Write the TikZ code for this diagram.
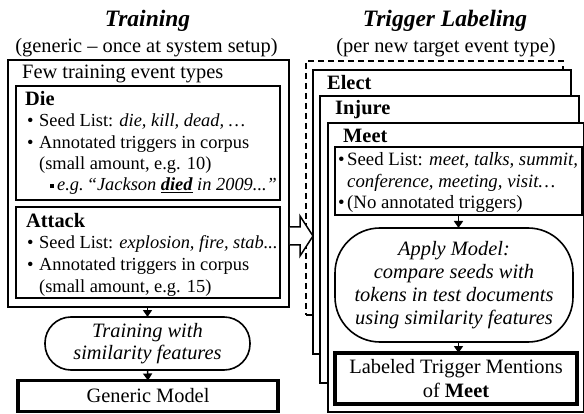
\documentclass[tikz,border=0pt]{standalone}
\usepackage{fontspec}
\setmainfont{Liberation Serif}
\usetikzlibrary{arrows.meta}
\newcommand\bul[1]{\makebox[#1][l]{\textbullet}}
\begin{document}
\begin{tikzpicture}[x=1pt,y=-1pt,
  box/.style={draw, line width=1.8pt, inner sep=0pt, outer sep=0pt, anchor=north west, fill=white},
  thinbox/.style={box, line width=1.5pt},
  pill/.style={draw, line width=1.6pt, inner sep=0pt, outer sep=0pt, fill=white, align=center},
  strong/.style={draw, line width=3.5pt, inner sep=0pt, outer sep=0pt, fill=white, align=center, font=\fontsize{20.4}{24}\selectfont},
  txt/.style={anchor=base west, inner sep=0pt, font=\fontsize{20.4}{22}\selectfont},
  btxt/.style={anchor=base west, inner sep=0pt, font=\fontsize{18.4}{21}\selectfont},
  rtxt/.style={anchor=base west, inner sep=0pt, font=\fontsize{18.8}{21}\selectfont},
  ttl/.style={anchor=base, inner sep=0pt, font=\fontsize{23.5}{24}\selectfont\bfseries\itshape},
  sub/.style={anchor=base, inner sep=0pt, font=\fontsize{20.4}{22}\selectfont},
  arr/.style={line width=1.4pt, -{Triangle[width=9pt,length=7pt]}},
  dashbox/.style={box, fill=none, dash pattern=on 6pt off 4pt, line width=1.6pt}]
\useasboundingbox (0,0) rectangle (584,414);

% ---------- titles ----------
\node[ttl] (t1) at (147.5,27) {Training};
\node[sub] (s1) at (146.5,53) {(generic – once at system setup)};
\node[ttl] (t2) at (445,27) {Trigger Labeling};
\node[sub] (s2) at (446,53) {(per new target event type)};

% ---------- left: training ----------
\node[box, minimum width=281pt, minimum height=247pt] (outer) at (8,60) {};
\node[txt] (few) at (22,79) {Few training event types};

\node[box, minimum width=264pt, minimum height=114pt] (die) at (16,86) {};
\node[txt, font=\fontsize{20.4}{22}\selectfont\bfseries] (dieT) at (25,106) {Die};
\node[btxt] (d1) at (27,127) {\bul{12pt}Seed List: \textit{die, kill, dead, …}};
\node[btxt] (d2) at (27,149) {\bul{12pt}Annotated triggers in corpus};
\node[btxt] (d3) at (39,170) {(small amount, e.g. 10)};
\node[btxt] (d4) at (50,191) {\makebox[7pt][l]{\raisebox{3pt}{\rule{3.6pt}{3.6pt}}}\textit{e.g.\,“Jackson \underline{\textbf{died}} in 2009...”}};

\node[box, minimum width=264pt, minimum height=91pt] (attack) at (16,207) {};
\node[txt, font=\fontsize{20.4}{22}\selectfont\bfseries] (atT) at (26,228) {Attack};
\node[btxt] (a1) at (27,249) {\bul{12pt}Seed List: \textit{explosion, fire, stab...}};
\node[btxt] (a2) at (27,271) {\bul{12pt}Annotated triggers in corpus};
\node[btxt] (a3) at (39,292) {(small amount, e.g. 15)};

\node[pill, rounded corners=26pt, minimum width=205pt, minimum height=53pt,
      font=\fontsize{20.4}{21.5}\selectfont\itshape] (train) at (147.5,343.5) {Training with\\similarity features};
\node[strong, minimum width=260pt, minimum height=31pt] (gen) at (148,396) {Generic Model};

\draw[arr] (outer.south -| train.north) -- (train.north);
\draw[arr] (train.south) -- (gen.north);

% ---------- right: trigger labeling ----------
\node[dashbox, minimum width=257pt, minimum height=254pt] (dash) at (306,61) {};
\node[box, minimum width=258pt, minimum height=284pt] (elect) at (313,70) {};
\node[txt, font=\fontsize{20.4}{22}\selectfont\bfseries] (elT) at (327,90) {Elect};
\node[box, minimum width=259pt, minimum height=287pt] (injure) at (320,96) {};
\node[txt, font=\fontsize{20.4}{22}\selectfont\bfseries] (inT) at (335,115) {Injure};
\node[box, minimum width=256pt, minimum height=289pt] (meet) at (328,123) {};
\node[txt, font=\fontsize{20.4}{22}\selectfont\bfseries] (meT) at (343,143) {Meet};

\node[thinbox, minimum width=247pt, minimum height=68pt] (seed) at (335,147) {};
\node[rtxt] (m1) at (338,166) {\bul{9pt}Seed List: \textit{meet, talks, summit,}};
\node[rtxt] (m2) at (347,188) {\textit{conference, meeting, visit…}};
\node[rtxt] (m3) at (338,209) {\bul{9pt}(No annotated triggers)};

\node[pill, rounded corners=45pt, minimum width=238pt, minimum height=114pt,
      font=\fontsize{20.4}{23}\selectfont\itshape] (apply) at (454,285)
      {Apply Model:\\compare seeds with\\tokens in test documents\\using similarity features};
\node[strong, minimum width=242pt, minimum height=51pt] (lab) at (456,378.5)
      {Labeled Trigger Mentions\\of \textbf{Meet}};

\draw[arr] (seed.south) -- (seed.south |- apply.north);
\draw[arr] (seed.south |- apply.south) -- (seed.south |- lab.north);

% ---------- hollow transfer arrow ----------
\draw[line width=1.5pt, fill=white, line join=miter]
  (289.9,227) -- (300,227) -- (300,216) -- (313,236) -- (300,256) -- (300,245) -- (289.9,245);
\end{tikzpicture}
\end{document}
